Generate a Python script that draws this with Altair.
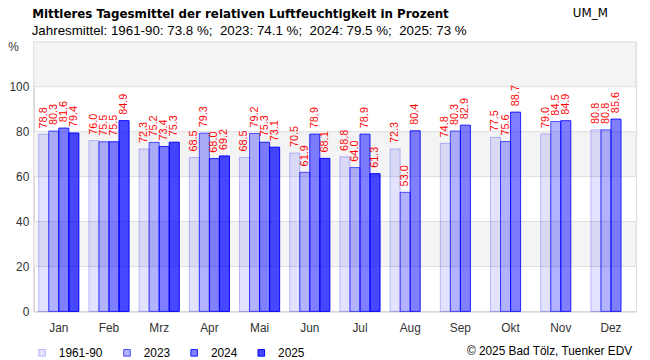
import altair as alt
import pandas as pd

months = ["Jan", "Feb", "Mrz", "Apr", "Mai", "Jun", "Jul", "Aug", "Sep", "Okt", "Nov", "Dez"]
series = ["1961-90", "2023", "2024", "2025"]
v_1961_90 = [78.8, 76.0, 72.3, 68.5, 68.5, 70.5, 68.8, 72.3, 74.8, 77.5, 79.0, 80.8]
v_2023 = [80.3, 75.5, 75.2, 79.3, 79.2, 61.9, 64.0, 53.0, 80.3, 75.6, 84.5, 80.8]
v_2024 = [81.6, 75.5, 73.4, 68.0, 75.3, 78.9, 78.9, 80.4, 82.9, 88.7, 84.9, 85.6]
v_2025 = [79.4, 84.9, 75.3, 69.2, 73.1, 68.1, 61.3, None, None, None, None, None]
y_ticks = [0, 20, 40, 60, 80, 100]
band_lo = [20, 60, 100]
band_hi = [40, 80, 120]

title = "Mittleres Tagesmittel der relativen Luftfeuchtigkeit in Prozent"
subtitle = "Jahresmittel: 1961-90: 73.8 %;\u00a0 2023: 74.1 %;\u00a0 2024: 79.5 %;\u00a0 2025: 73 %"
code = "UM_M"
copyright = "\u00a9 2025 Bad T\u00f6lz, Tuenker EDV"

FONT = "Liberation Sans"

rows = []
for s, vals in zip(series, [v_1961_90, v_2023, v_2024, v_2025]):
    for m, v in zip(months, vals):
        if v is not None:
            rows.append({"month": m, "series": s, "value": v})
df = pd.DataFrame(rows)
bands = pd.DataFrame({"lo": band_lo, "hi": band_hi})

fill_range = ["rgba(0,0,255,0.11)", "rgba(0,0,255,0.30)", "rgba(0,0,255,0.50)", "rgba(0,0,255,0.72)"]
stroke_range = ["rgba(0,0,255,0.25)", "rgba(0,0,255,0.65)", "rgba(0,0,255,0.85)", "rgba(0,0,255,1)"]

x_enc = alt.X("month:N", sort=months,
              scale=alt.Scale(paddingInner=0.2, paddingOuter=0.1),
              axis=alt.Axis(title=None, ticks=False, labelAngle=0, labelFontSize=12,
                            labelColor="#333", labelPadding=11, domainColor="#cccccc",
                            labelFont=FONT))
xo_enc = alt.XOffset("series:N", sort=series, scale=alt.Scale(paddingInner=0, paddingOuter=0))
y_scale = alt.Scale(domain=[0, 120], nice=False)

band_layer = alt.Chart(bands).mark_rect(fill="#f4f4f4", stroke="#dddddd", strokeWidth=1).encode(
    y=alt.Y("lo:Q", scale=y_scale,
            axis=alt.Axis(values=y_ticks, grid=False, ticks=False, domainColor="#cccccc",
                          labelFontSize=12, labelColor="#333", labelPadding=5, labelFont=FONT,
                          title="%", titleAngle=0, titleX=-21, titleY=5, titleAlign="center",
                          titleBaseline="middle", titleFontWeight="normal", titleFontSize=12,
                          titleColor="#333", titleFont=FONT)),
    y2="hi:Q",
)

bars = alt.Chart(df).mark_bar(strokeWidth=1).encode(
    x=x_enc,
    xOffset=xo_enc,
    y=alt.Y("value:Q", scale=y_scale),
    fill=alt.Fill("series:N", sort=series,
                  scale=alt.Scale(domain=series, range=fill_range),
                  legend=alt.Legend(title=None, orient="none", legendX=2.5, legendY=309,
                                    direction="horizontal", symbolType="square", symbolSize=45,
                                    symbolStrokeColor="#888888", symbolStrokeWidth=1,
                                    labelFontSize=12, labelFont=FONT, labelColor="#000",
                                    labelOffset=11, columnPadding=18, gridAlign="each",
                                    padding=0)),
    stroke=alt.Stroke("series:N", sort=series,
                      scale=alt.Scale(domain=series, range=stroke_range), legend=None),
)

labels = alt.Chart(df).mark_text(angle=270, align="left", baseline="middle", dx=6,
                                 fontSize=11, color="red", font=FONT).encode(
    x=x_enc,
    xOffset=xo_enc,
    y=alt.Y("value:Q", scale=y_scale),
    text=alt.Text("value:Q", format=".1f"),
)

title_text = alt.Chart(pd.DataFrame({"t": [title]})).mark_text(
    align="left", baseline="alphabetic", fontSize=12, fontWeight="bold",
    font="DejaVu Sans", color="#000").encode(
    x=alt.value(-1.5), y=alt.value(-24), text="t:N")

subtitle_text = alt.Chart(pd.DataFrame({"t": [subtitle]})).mark_text(
    align="left", baseline="alphabetic", fontSize=13.5, font=FONT, color="#000").encode(
    x=alt.value(-2), y=alt.value(-7), text="t:N")

code_text = alt.Chart(pd.DataFrame({"t": [code]})).mark_text(
    align="left", baseline="alphabetic", fontSize=12, font="DejaVu Sans", color="#000").encode(
    x=alt.value(546), y=alt.value(-25), text="t:N")

copy_text = alt.Chart(pd.DataFrame({"t": [copyright]})).mark_text(
    align="right", baseline="alphabetic", fontSize=12, font=FONT, color="#000").encode(
    x=alt.value(606), y=alt.value(317), text="t:N")

chart = alt.layer(band_layer, bars, labels, title_text, subtitle_text, code_text, copy_text).properties(
    width=610, height=273,
    autosize=alt.AutoSizeParams(type="none"),
    padding={"left": 26, "top": 32, "right": 6, "bottom": 47},
).configure_view(stroke="#dddddd").configure(background="white")

chart.save("out.html", embed_options={"renderer": "svg", "actions": False})
